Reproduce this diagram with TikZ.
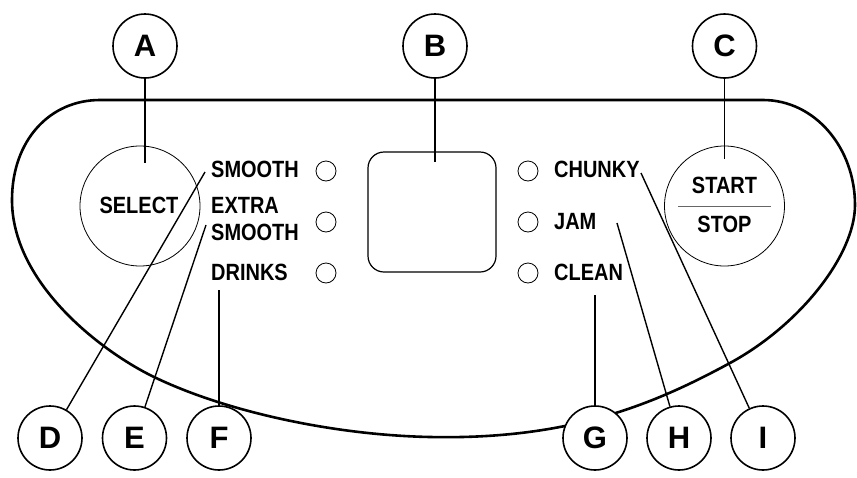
\documentclass[tikz,border=0pt]{standalone}
\usepackage{fontspec}
\setmainfont{Liberation Sans}
\newfontfamily\panelfont[FakeStretch=0.85]{Liberation Sans}
\begin{document}
\begin{tikzpicture}[x=1pt,y=-1pt,
  callout/.style={circle,draw,fill=white,line width=1.6pt,minimum size=64pt,inner sep=0pt,font=\fontsize{31}{31}\selectfont\bfseries},
  paneltext/.style={inner sep=0pt,font=\panelfont\fontsize{23.5}{23.5}\selectfont\bfseries},
  leader/.style={line width=1.4pt},
  led/.style={draw,line width=0.8pt},
  outline/.style={line width=2.6pt,line join=round}]
\useasboundingbox (0,0) rectangle (857,477);
\fill[white] (0,0) rectangle (857,477);
% panel outline
\draw[outline] (100,100) -- (763,100)
  .. controls (815,100) and (855,148) .. (855,205)
  .. controls (855,255) and (800,325) .. (730,363)
  .. controls (655,403.7) and (570,440) .. (430,437)
  .. controls (330,435) and (220,410) .. (150,375)
  .. controls (95,347) and (12,280) .. (12,200)
  .. controls (12,140) and (50,100) .. (100,100) -- cycle;
% buttons
\draw[line width=0.8pt] (140,206) circle[radius=60];
\draw[line width=0.8pt] (724.5,206) circle[radius=60];
\draw[line width=1.2pt,rounded corners=16] (368,152) rectangle (496,272);
% LEDs
\foreach \yy in {171,222,273}{
  \draw[led] (326,\yy) circle[radius=10];
  \draw[led] (528,\yy) circle[radius=10];
}
% panel texts
\node[paneltext,anchor=base] (select) at (139,213) {SELECT};
\node[paneltext,anchor=base] (start) at (724.5,193) {START};
\node[paneltext,anchor=base] (stop) at (724.5,232) {STOP};
\draw[line width=1pt,black!60] (678,206) -- (771,206);
\node[paneltext,anchor=base west] (smooth) at (211,177) {SMOOTH};
\node[paneltext,anchor=base west] (extra) at (211,213) {EXTRA};
\node[paneltext,anchor=base west] (xsmooth) at (211,240) {SMOOTH};
\node[paneltext,anchor=base west] (drinks) at (211,280) {DRINKS};
\node[paneltext,anchor=base west] (chunky) at (554,177) {CHUNKY};
\node[paneltext,anchor=base west] (jam) at (554,229) {JAM};
\node[paneltext,anchor=base west] (clean) at (554,280) {CLEAN};
% callouts
\node[callout] (A) at (145,46) {A};
\node[callout] (B) at (435,46) {B};
\node[callout] (C) at (724.5,46) {C};
\node[callout] (D) at (50,438) {D};
\node[callout] (E) at (134.5,438) {E};
\node[callout] (F) at (219,438) {F};
\node[callout] (G) at (595,438) {G};
\node[callout] (H) at (679,438) {H};
\node[callout] (I) at (763,438) {I};
% leader end points
\coordinate (a1) at (145,163);
\coordinate (b1) at (435,162);
\coordinate (c1) at (724.5,159);
\coordinate (d1) at (205,172);
\coordinate (e1) at (206,225);
\coordinate (f1) at (219,290);
\coordinate (g1) at (595,295);
\coordinate (h1) at (617,223);
\coordinate (i1) at (641,173);
\draw[leader] (A) -- (a1);
\draw[leader] (B) -- (b1);
\draw[leader] (C) -- (c1);
\draw[leader] (d1) -- (D);
\draw[leader] (e1) -- (E);
\draw[leader] (f1) -- (F);
\draw[leader] (g1) -- (G);
\draw[leader] (h1) -- (H);
\draw[leader] (i1) -- (I);
\end{tikzpicture}
\end{document}
